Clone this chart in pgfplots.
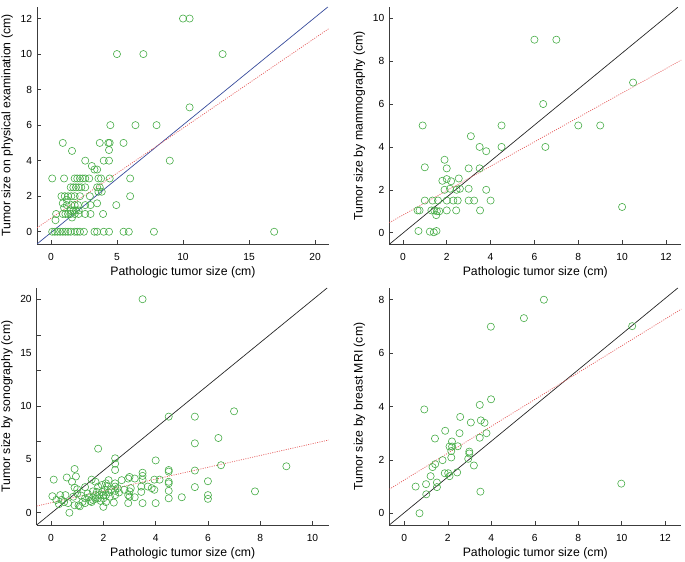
\documentclass[border=0pt]{standalone}
\usepackage{fontspec}
\setmainfont{Liberation Sans}
\usepackage{pgfplots}
\pgfplotsset{compat=1.18}
\definecolor{ptgreen}{RGB}{70,172,70}
\definecolor{diagblue}{RGB}{55,75,155}
\definecolor{redfit}{RGB}{228,90,90}
\definecolor{axgray}{RGB}{60,60,60}
\pgfplotsset{
  panel/.style={
    scale only axis, width=292bp, height=237bp,
    axis x line*=bottom, axis y line*=left,
    axis line style={axgray, line width=0.6pt},
    tick align=inside, major tick length=4bp, minor tick length=4bp,
    tick style={axgray, line width=0.5pt},
    tick label style={font=\fontsize{10.3}{12}\selectfont},
    /pgf/number format/assume math mode=true,
    xticklabel style={yshift=-5.5bp},
    yticklabel style={xshift=-1.5bp},
    xlabel={Pathologic tumor size (cm)},
    every axis x label/.style={at={(axis description cs:0.5,-0.093)}, anchor=north, inner sep=0pt, font=\fontsize{12.3}{14}\selectfont},
    every axis y label/.style={at={(axis description cs:-0.082,0.5)}, rotate=90, anchor=south, inner sep=0pt, font=\fontsize{12.3}{14}\selectfont},
  },
  dots/.style={only marks, mark=o, mark size=3.6bp, mark options={ptgreen, line width=0.6pt}},
  fitline/.style={redfit, line width=0.7pt, dash pattern=on 1bp off 1.3bp},
  diag/.style={line width=0.7pt},
}
\begin{document}
\begin{tikzpicture}
\useasboundingbox (0,0) rectangle (685bp,562bp);
% Panel 1
\begin{axis}[panel, at={(37bp,318bp)}, anchor=south west,
  xmin=-1.05, xmax=21.05, ymin=-0.69, ymax=12.65,
  xtick={0,5,10,15,20}, ytick={0,2,4,6,8,10,12},
  ylabel={Tumor size on physical examination (cm)}]
\addplot[dots] coordinates {
(10.0,12) (10.5,12) (5.0,10) (7.0,10) (13.0,10) (10.5,7)
(4.5,6) (6.4,6) (8.0,6)
(0.9,5) (3.7,5) (4.35,5) (4.45,5) (5.5,5)
(1.6,4.55) (4.4,4.6)
(2.6,4) (4.0,4) (4.4,4) (9.0,4)
(3.1,3.7) (3.3,3.5) (3.5,3.5)
(0.1,3) (1.0,3) (1.8,3) (2.0,3) (2.2,3) (2.4,3) (2.6,3) (2.9,3) (3.6,3) (3.8,3) (4.45,3) (6.0,3)
(1.5,2.5) (1.7,2.5) (1.9,2.5) (2.1,2.5) (2.3,2.5) (2.6,2.5) (3.5,2.5) (3.7,2.5)
(3.6,2.25) (3.85,2.25)
(0.8,2) (1.05,2) (1.3,2) (1.55,2) (1.8,2) (2.2,2) (2.95,2) (6.0,2)
(1.2,1.8)
(0.9,1.6) (3.5,1.6)
(1.2,1.5) (1.55,1.5) (1.8,1.5) (2.05,1.5) (2.6,1.5) (3.0,1.5) (4.95,1.5)
(1.0,1.35) (1.5,1.2) (1.7,1.2) (1.9,1.2) (2.1,1.2)
(0.4,1) (0.9,1) (1.1,1) (1.3,1) (1.5,1) (1.8,1) (2.1,1) (2.6,1) (3.0,1) (3.95,1)
(1.6,0.8) (0.35,0.65)
(0.1,0) (0.3,0) (0.5,0) (0.7,0) (0.9,0) (1.1,0) (1.3,0) (1.5,0) (1.8,0) (2.0,0) (2.2,0) (2.5,0) (3.3,0) (3.5,0) (4.0,0) (4.4,0) (5.5,0) (5.9,0) (7.8,0) (16.9,0)
};
\addplot[diag, diagblue] coordinates {(-1.05,-0.69) (20.96,12.65)};
\addplot[fitline] coordinates {(-1.05,0.22) (21.05,11.44)};
\end{axis}
% Panel 2
\begin{axis}[panel, at={(389.3bp,317.7bp)}, anchor=south west,
  xmin=-0.62, xmax=12.7, ymin=-0.54, ymax=10.51,
  xtick={0,2,4,6,8,10,12}, ytick={0,2,4,6,8,10},
  ylabel={Tumor size by mammography (cm)}]
\addplot[dots] coordinates {
(6,9) (7,9) (10.5,7) (6.4,6)
(0.9,5) (4.5,5) (8,5) (9,5) (3.1,4.5)
(3.5,4.0) (4.5,4.0) (6.5,4.0) (3.8,3.8) (1.9,3.4)
(1.0,3.05) (2.0,3.0) (3.0,3.0) (3.5,3.0)
(2.55,2.53) (2.0,2.5) (1.8,2.42) (2.2,2.4)
(1.9,2.0) (2.15,2.05) (2.45,2.0) (2.6,2.05) (3.0,2.05) (3.8,2.0)
(1.0,1.5) (1.35,1.5) (1.6,1.5) (2.0,1.5) (2.3,1.5) (2.5,1.5) (3.0,1.5) (3.25,1.5) (4.0,1.5)
(0.67,1.04) (0.76,1.04) (1.3,1.04) (1.43,1.04) (1.55,1.0) (1.66,1.0) (2.0,1.04) (2.43,1.04) (3.52,1.04)
(1.52,0.82)
(0.71,0.08) (1.23,0.05) (1.41,0.02) (1.53,0.08)
(10,1.2)
};
\addplot[diag, black!85] coordinates {(-0.62,-0.54) (12.54,10.51)};
\addplot[fitline] coordinates {(-0.62,0.47) (12.7,8.05)};
\end{axis}
% Panel 3
\begin{axis}[panel, at={(36.7bp,37bp)}, anchor=south west,
  xmin=-0.55, xmax=10.62, ymin=-1.15, ymax=21.05,
  xtick={0,2,4,6,8,10}, ytick={0,5,10,15,20},
  major tick length=0pt,
  minor xtick={0,2,4,6,8,10},
  minor ytick={0,3.3333,6.6667,10,13.3333,16.6667,20},
  ylabel={Tumor size by sonography (cm)}]
\addplot[dots] coordinates {
(3.5,20) (7,9.5) (4.5,9) (5.5,9) (6.4,7) (5.5,6.5) (1.8,6)
(2.45,5.1) (2.45,4.6) (2.45,4.0) (4.0,4.9) (6.5,4.45) (9.0,4.35)
(4.5,4.0) (4.5,3.85) (5.5,3.95) (3.5,3.75) (3.5,3.45) (3.5,3.1)
(0.1,3.1) (0.95,3.4) (0.6,3.3) (0.9,4.1) (0.8,2.9) (0.9,2.35)
(1.55,3.1) (2.2,3.05) (2.7,3.05) (3.0,3.35) (2.95,3.2) (3.2,3.2)
(3.95,3.1) (4.15,3.1) (4.5,2.9) (4.5,2.75) (6.0,2.95) (5.5,2.4)
(7.8,2.0) (4.5,2.05) (5.0,1.45) (6.0,1.65) (6.0,1.3) (4.5,1.35)
(4.0,0.9) (3.5,0.9) (2.95,0.9) (2.4,0.95) (0.7,0)
(0.05,1.55) (0.35,1.65) (0.55,1.65) (0.2,1.2) (0.4,1.2) (0.65,0.9)
(0.9,0.7) (1.05,0.7) (1.1,0.6) (0.85,1.5) (1.0,1.8) (1.3,2.4)
(1.4,1.8) (1.3,1.35) (1.45,1.45) (1.8,2.45) (1.95,2.6) (1.7,1.65)
(1.85,1.65) (2.0,1.65) (2.1,1.65) (1.8,1.35) (2.0,1.35) (1.95,1.95)
(2.05,2.15) (2.1,2.75) (2.0,0.55) (2.45,2.75) (2.45,2.45) (2.45,2.05)
(2.45,1.65) (2.8,2.15) (2.95,1.65) (3.0,1.5) (3.45,2.45) (3.45,1.95)
(3.2,1.45) (3.7,2.45) (3.85,2.3) (3.95,2.15) (1.6,1.2) (1.5,1.1)
(1.2,1.0) (1.3,0.9) (1.55,1.0) (1.7,1.3) (2.2,1.9) (2.3,2.2)
(2.25,1.5) (1.9,1.1) (2.1,1.0) (0.5,1.0) (0.3,0.8) (1.0,2.2)
(1.6,2.0) (1.75,1.95) (2.55,2.3) (2.6,1.9) (3.05,2.3) (3.0,2.0)
(1.15,1.6) (1.7,2.9) (2.15,2.5)
};
\addplot[diag, black!85] coordinates {(-0.55,-1.15) (10.56,21.05)};
\addplot[fitline] coordinates {(-0.55,0.63) (10.62,6.81)};
\end{axis}
% Panel 4
\begin{axis}[panel, at={(389.3bp,37bp)}, anchor=south west,
  xmin=-0.69, xmax=12.74, ymin=-0.44, ymax=8.44,
  xtick={0,2,4,6,8,10,12}, ytick={0,2,4,6,8},
  ylabel={Tumor size by breast MRI (cm)}]
\addplot[dots] coordinates {
(6.42,8.0) (5.5,7.31) (3.98,6.99) (10.48,7.01) (3.99,4.27) (0.92,3.89)
(3.47,4.06) (2.57,3.61) (3.06,3.4) (3.52,3.48) (3.69,3.39) (1.88,3.09)
(2.54,3.0) (3.78,3.0) (1.41,2.8) (3.47,2.83) (2.19,2.69)
(2.08,2.5) (2.2,2.5) (2.46,2.51) (2.16,2.33) (2.99,2.31) (2.99,2.24)
(2.16,2.09) (2.94,2.04) (1.76,1.99) (1.3,1.73) (1.42,1.84) (3.2,1.79)
(1.86,1.5) (2.02,1.5) (2.43,1.53) (1.21,1.39) (2.08,1.39)
(1.5,1.15) (1.0,1.09) (0.52,1.0) (1.5,0.98) (1.01,0.71) (3.5,0.81)
(0.7,0) (9.98,1.11)
};
\addplot[diag, black!85] coordinates {(-0.69,-0.44) (12.58,8.44)};
\addplot[fitline] coordinates {(-0.69,0.9) (12.74,7.65)};
\end{axis}
\end{tikzpicture}
\end{document}
